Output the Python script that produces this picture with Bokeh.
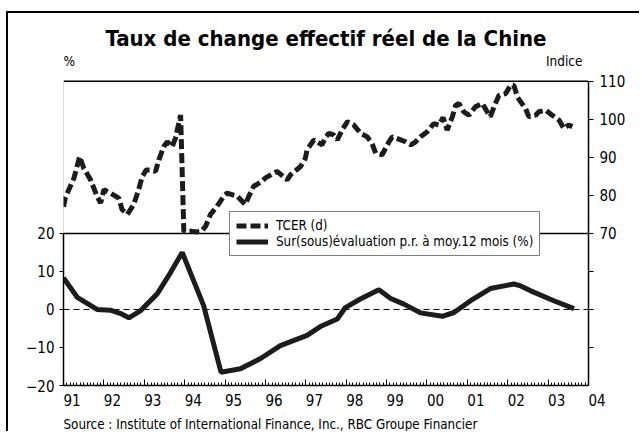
from bokeh.plotting import figure
from bokeh.models import (Range1d, LinearAxis, FixedTicker, Span, Label, Title, Legend, LegendItem)
from bokeh.embed import file_html
from bokeh.resources import INLINE

FONT = "'DejaVu Sans Condensed', Roboto, sans-serif"

# ---- data ----
# TCER index (right axis), decimal years
tcer_t = [1991.00, 1991.05, 1991.26, 1991.40, 1991.50, 1991.67, 1991.83, 1991.92,
          1992.00, 1992.16, 1992.37, 1992.45, 1992.58, 1992.74, 1992.86, 1992.95,
          1993.05, 1993.15, 1993.28, 1993.36, 1993.48, 1993.57, 1993.69, 1993.77,
          1993.90, 1993.98, 1994.15, 1994.30, 1994.42, 1994.52, 1994.64, 1994.80,
          1994.97, 1995.05, 1995.30, 1995.50, 1995.59, 1995.71, 1995.92, 1996.00,
          1996.29, 1996.54, 1996.62, 1996.87, 1996.99, 1997.03, 1997.20, 1997.40,
          1997.50, 1997.57, 1997.69, 1997.78, 1997.90, 1998.03, 1998.19, 1998.36,
          1998.52, 1998.64, 1998.73, 1998.89, 1999.06, 1999.14, 1999.35, 1999.47,
          1999.60, 1999.72, 1999.84, 2000.00, 2000.17, 2000.30, 2000.40, 2000.50,
          2000.63, 2000.71, 2000.79, 2000.91, 2001.04, 2001.20, 2001.37, 2001.49,
          2001.57, 2001.66, 2001.78, 2001.95, 2002.07, 2002.15, 2002.24, 2002.32,
          2002.44, 2002.52, 2002.69, 2002.77, 2002.94, 2003.10, 2003.27, 2003.39,
          2003.51, 2003.60]
tcer_v = [77.0, 79.5, 84.6, 90.2, 87.2, 84.1, 79.8, 78.0,
          81.5, 80.6, 79.3, 76.3, 75.0, 77.6, 81.5, 85.0,
          86.7, 86.7, 86.3, 89.3, 92.8, 94.1, 92.8, 95.0,
          101.1, 70.5, 70.6, 70.4, 70.6, 71.9, 75.0, 77.1,
          79.8, 80.6, 79.8, 77.6, 79.8, 82.4, 83.7, 84.6,
          86.3, 84.1, 85.4, 87.6, 89.8, 92.0, 94.6, 93.3,
          95.4, 96.3, 95.9, 94.6, 97.2, 99.4, 98.5, 96.3,
          95.4, 93.7, 91.1, 90.7, 94.1, 95.4, 94.6, 94.1,
          93.3, 94.1, 95.4, 96.7, 98.9, 98.5, 100.5, 97.2,
          100.7, 103.7, 104.2, 102.0, 101.1, 103.3, 104.2, 102.0,
          100.7, 103.3, 106.3, 106.8, 109.0, 109.0, 105.9, 104.6,
          102.9, 100.7, 101.1, 102.0, 102.4, 101.1, 99.8, 97.6,
          98.5, 98.1]

# Over/under-valuation vs 12-month average (%), left axis
gap_t = [1991.00, 1991.34, 1991.83, 1992.16, 1992.40, 1992.62, 1992.90, 1993.32,
         1993.65, 1993.94, 1994.47, 1994.90, 1995.38, 1995.88, 1996.37, 1997.03,
         1997.36, 1997.78, 1997.98, 1998.35, 1998.81, 1999.10, 1999.43, 1999.84,
         2000.38, 2000.67, 2001.08, 2001.57, 2002.15, 2002.32, 2002.57, 2003.14,
         2003.64]
gap_v = [8.3, 3.2, 0.0, -0.2, -1.0, -2.2, -0.4, 4.1,
         9.7, 15.0, 1.0, -16.5, -15.6, -12.9, -9.5, -6.8,
         -4.5, -2.5, 0.5, 2.75, 5.2, 2.9, 1.4, -0.9,
         -1.8, -0.8, 2.3, 5.5, 6.7, 6.2, 4.9, 2.3,
         0.2]

years = list(range(1991, 2005))
year_labels = ["91", "92", "93", "94", "95", "96", "97", "98", "99", "00",
               "01", "02", "03", "04"]
left_ticks = [-20, -10, 0, 10, 20]
right_ticks = [70, 80, 90, 100, 110]
right_minor = [40, 50, 60]

title_text = "Taux de change effectif réel de la Chine"
source_text = "Source : Institute of International Finance, Inc., RBC Groupe Financier"
legend_labels = ["TCER (d)", "Sur(sous)évaluation p.r. à moy.12 mois (%)"]

INK = "#1c1c1c"
FIG_SP = "\u2007"  # figure space: shifts each year label to the right of its tick

# left scale: -20..60 in the chart area, extended upward to hold the heading texts
p = figure(width=633, height=420, x_range=Range1d(1991, 2004), y_range=Range1d(-20, 76),
           output_backend="svg", toolbar_location=None,
           min_border_left=55, min_border_right=53, min_border_top=7, min_border_bottom=46,
           background_fill_color="white", border_fill_color="white")
p.styles = {"margin-left": "6px", "margin-top": "11px",
            "border-left": "2px solid black", "border-top": "2px solid black"}
p.extra_y_ranges = {"idx": Range1d(30, 126)}
p.grid.visible = False
p.outline_line_color = None

# reference lines
for loc, dash, w in [(60, "solid", 1.5), (20, "solid", 1.5), (0, "6 4", 1)]:
    p.add_layout(Span(location=loc, dimension="width", line_color="black",
                      line_dash=dash, line_width=w, level="underlay"))
# faint frame edge of the upper panel
p.segment(x0=[1991], y0=[20], x1=[1991], y1=[60], line_color="#bdbdbd", line_width=1)

# bottom axis
xa = p.xaxis[0]
xa.ticker = FixedTicker(ticks=years, minor_ticks=[1991 + m / 12 for m in range(157)])
xa.axis_line_color = "black"
xa.axis_line_width = 1.5
xa.major_tick_in = 6
xa.major_tick_out = 0
xa.minor_tick_in = 3
xa.minor_tick_out = 0
xa.major_tick_line_color = "black"
xa.minor_tick_line_color = "black"
xa.major_label_overrides = {y: FIG_SP * 2 + lab for y, lab in zip(years, year_labels)}
xa.major_label_standoff = 6
xa.major_label_text_font = FONT
xa.major_label_text_font_size = "15px"
xa.major_label_text_color = "black"

# left axis
ya = p.yaxis[0]
ya.ticker = FixedTicker(ticks=left_ticks)
ya.bounds = (-20, 20)
ya.axis_line_color = "black"
ya.axis_line_width = 1.5
ya.major_tick_out = 4
ya.major_tick_in = 0
ya.minor_tick_line_color = None
ya.major_label_standoff = 5
ya.major_label_text_font = FONT
ya.major_label_text_font_size = "15px"
ya.major_label_text_color = "black"

# right axis
ra = LinearAxis(y_range_name="idx", ticker=FixedTicker(ticks=right_ticks, minor_ticks=right_minor))
ra.bounds = (30, 110)
ra.axis_line_color = "black"
ra.axis_line_width = 1.5
ra.major_tick_out = 5
ra.major_tick_in = 0
ra.minor_tick_out = 5
ra.minor_tick_in = 0
ra.minor_tick_line_color = "black"
ra.major_label_standoff = 6
ra.major_label_text_font = FONT
ra.major_label_text_font_size = "15px"
ra.major_label_text_color = "black"
p.add_layout(ra, "right")

# series
r_tcer = p.line(tcer_t, tcer_v, y_range_name="idx", line_width=5, line_dash="10 4",
                line_color=INK)
r_gap = p.line(gap_t, gap_v, line_width=5, line_color=INK)

legend = Legend(items=[LegendItem(label=legend_labels[0], renderers=[r_tcer]),
                       LegendItem(label=legend_labels[1], renderers=[r_gap])],
                location=(166, 129), padding=6, spacing=1, label_height=15,
                glyph_height=15, glyph_width=32, label_standoff=8, margin=0,
                border_line_color="black", border_line_width=1,
                background_fill_color="white", background_fill_alpha=1,
                label_text_font=FONT, label_text_font_size="13.3px",
                label_text_color="black")
p.add_layout(legend)

# heading texts (inside the extended frame, above the 60 line)
p.add_layout(Label(x=1997.5, y=60, y_offset=43, text=title_text, text_align="center",
                   text_baseline="middle", text_font=FONT, text_font_style="bold",
                   text_font_size="22px", text_color="black"))
p.add_layout(Label(x=1991, y=60, y_offset=20, text="%", text_align="left",
                   text_baseline="middle", text_font=FONT, text_font_size="13.5px",
                   text_color="black"))
p.add_layout(Label(x=2004, y=60, x_offset=-6, y_offset=20, text="Indice", text_align="right",
                   text_baseline="middle", text_font=FONT, text_font_size="13.5px",
                   text_color="black"))

# source line below the axis
p.add_layout(Title(text=source_text, align="left", standoff=4, text_font=FONT,
                   text_font_size="13.3px", text_font_style="normal", text_color="black"),
             "below")

open("out.html", "w").write(file_html(p, INLINE))
